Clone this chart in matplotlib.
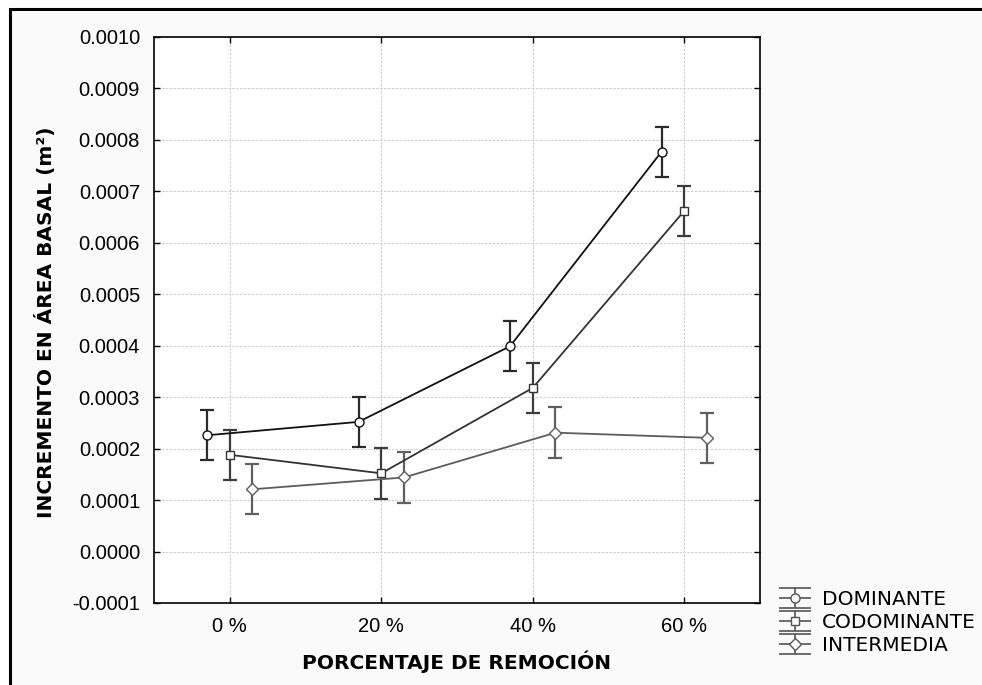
import matplotlib
matplotlib.use("Agg")
import matplotlib.pyplot as plt
import numpy as np
from matplotlib.lines import Line2D
from matplotlib.patches import Rectangle

categories = ["0 %", "20 %", "40 %", "60 %"]
series_names = ["DOMINANTE", "CODOMINANTE", "INTERMEDIA"]

dominante = [0.000226, 0.000252, 0.000399, 0.000777]
codominante = [0.000188, 0.000152, 0.000318, 0.000662]
intermedia = [0.000121, 0.000144, 0.000231, 0.000221]

dominante_err = [0.000049, 0.000049, 0.000049, 0.000049]
codominante_err = [0.000049, 0.000049, 0.000049, 0.000049]
intermedia_err = [0.000049, 0.000049, 0.000049, 0.000049]

y_ticks = [-0.0001, 0.0, 0.0001, 0.0002, 0.0003, 0.0004,
           0.0005, 0.0006, 0.0007, 0.0008, 0.0009, 0.0010]

STYLES = [
    # offset, marker, markersize, line colour, errorbar colour
    (-0.15, "o", 6.5, "#111111", "#2a2a2a"),
    (0.0, "s", 6.3, "#333333", "#3c3c3c"),
    (0.15, "D", 6.5, "#5c5c5c", "#606060"),
]


class CapHandler:
    """Legend key: horizontal caps above/below, marker line and a vertical bar."""

    def __init__(self, marker, ms, color):
        self.marker = marker
        self.ms = ms
        self.color = color

    def legend_artist(self, legend, orig_handle, fontsize, handlebox):
        x0 = -handlebox.xdescent
        w = handlebox.width
        cx = x0 + w / 2
        cy = handlebox.height / 2 - handlebox.ydescent
        d = 7.0
        kw = dict(color=self.color, lw=1.2, solid_capstyle="butt")
        arts = [
            Line2D([x0, x0 + w], [cy + d, cy + d], **kw),
            Line2D([x0, x0 + w], [cy - d, cy - d], **kw),
            Line2D([cx, cx], [cy - d, cy + d], **kw),
            Line2D([x0, x0 + w], [cy, cy], **kw),
            Line2D([cx], [cy], ls="none", marker=self.marker, ms=self.ms,
                   mfc="white", mec=self.color, mew=1.0),
        ]
        for a in arts:
            handlebox.add_artist(a)
        return arts[-1]


plt.rcParams["font.family"] = ["Liberation Sans", "DejaVu Sans"]

fig = plt.figure(figsize=(9.82, 6.85), dpi=100)
fig.patch.set_facecolor("white")
W, H = 982, 685
fig.add_artist(Rectangle((9.5 / W, -0.1), 1.2, 1.1 - 9.5 / H,
                         transform=fig.transFigure, facecolor="#fafafa",
                         edgecolor="black", lw=2.2, zorder=-5))

ax = fig.add_axes([154 / W, 1 - 603 / H, (760 - 154) / W, (603 - 37) / H])
ax.set_facecolor("white")

x = np.arange(len(categories))
values = [dominante, codominante, intermedia]
errors = [dominante_err, codominante_err, intermedia_err]

for name, vals, errs, (off, mk, ms, lc, ec) in zip(series_names, values, errors, STYLES):
    ax.errorbar(x + off, vals, yerr=errs, fmt="none", ecolor=ec,
                elinewidth=1.6, capsize=5.3, capthick=1.6, zorder=3)
    ax.plot(x + off, vals, color=lc, lw=1.3, marker=mk, ms=ms,
            mfc="white", mec=lc, mew=1.0, zorder=4, label=name)

ax.set_xlim(-0.5, 3.5)
ax.set_ylim(-0.0001, 0.0010)
ax.set_xticks(x)
ax.set_xticklabels(categories)
ax.set_yticks(y_ticks)
ax.set_yticklabels([f"{v:.4f}" for v in y_ticks])
ax.grid(True, color="#cccccc", linestyle=(0, (2.5, 1.5)), lw=0.7, zorder=0)
ax.set_axisbelow(True)

for sp in ax.spines.values():
    sp.set_linewidth(1.2)
    sp.set_color("black")
ax.tick_params(axis="both", direction="in", length=4, width=1.0,
               labelsize=14.5, pad=10, top=True, right=True)

fig.text(46 / W, 1 - 322 / H, "INCREMENTO EN ÁREA BASAL (m²)", rotation=90,
         ha="center", va="center", fontsize=14.5, fontweight="bold",
         family="DejaVu Sans")
fig.text(457 / W, 1 - 662 / H, "PORCENTAJE DE REMOCIÓN", ha="center",
         va="center", fontsize=14.5, fontweight="bold", family="DejaVu Sans")

handles = [Line2D([], []) for _ in series_names]
handler_map = {h: CapHandler(st[1], st[2], "#555555")
               for h, st in zip(handles, STYLES)}
leg = fig.legend(handles, series_names, handler_map=handler_map,
                 loc="upper left", bbox_to_anchor=(779 / W, 1 - 590 / H),
                 frameon=False, borderpad=0, borderaxespad=0,
                 handlelength=1.6, handletextpad=0.55, labelspacing=0.2,
                 prop={"family": "DejaVu Sans", "size": 14.5})

fig.savefig("out.png", dpi=100)
